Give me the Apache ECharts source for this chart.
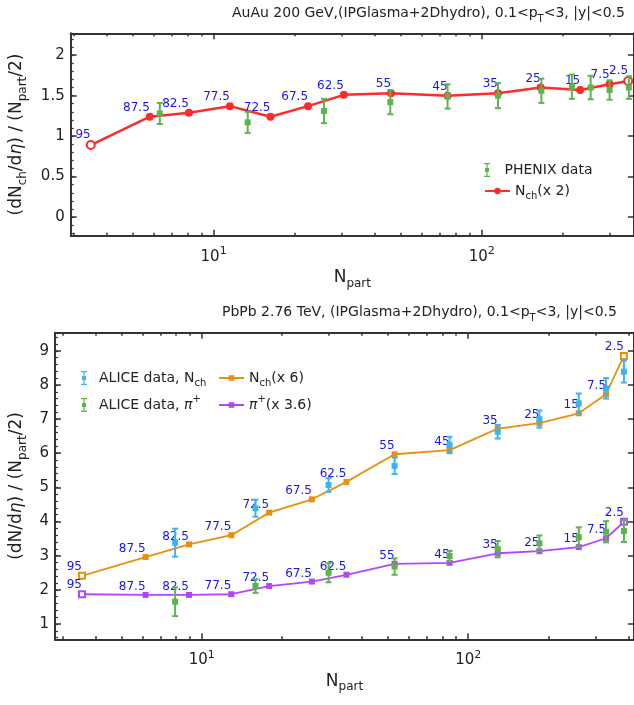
<!DOCTYPE html>
<html>
<head>
<meta charset="utf-8">
<script src="https://cdn.jsdelivr.net/npm/echarts@6/dist/echarts.min.js"></script>
<style>html,body{margin:0;padding:0;background:#fff}#chart{width:634px;height:705px}</style>
</head>
<body>
<div id="chart"></div>
<script>
// centrality (%) labels shown next to the model points
var centLabels = ['95', '87.5', '82.5', '77.5', '72.5', '67.5', '62.5', '55', '45', '35', '25', '15', '7.5', '2.5'];

// AuAu 200 GeV, model (x 2)
var auNpart = [3.48, 5.78, 8.09, 11.5, 16.3, 22.5, 30.6, 45.9, 74.6, 115, 166, 233, 300, 352];
var auNch = [0.89, 1.24, 1.29, 1.37, 1.24, 1.37, 1.51, 1.53, 1.50, 1.53, 1.60, 1.57, 1.64, 1.68];
// PHENIX data
var phenixNpart = [6.3, 13.4, 25.8, 45.6, 74.6, 115, 167, 217, 255, 300, 354];
var phenixVal = [1.28, 1.17, 1.31, 1.42, 1.49, 1.50, 1.56, 1.61, 1.60, 1.57, 1.60];
var phenixErr = [0.13, 0.13, 0.15, 0.15, 0.15, 0.155, 0.15, 0.15, 0.145, 0.12, 0.14];

// PbPb 2.76 TeV, model
var pbNpart = [3.55, 6.15, 8.95, 12.9, 17.9, 25.9, 34.9, 52.9, 85.1, 129, 185, 260, 329, 384];
var pbNch = [2.41, 2.96, 3.33, 3.60, 4.26, 4.65, 5.16, 5.97, 6.09, 6.72, 6.88, 7.17, 7.73, 8.85];
var pbPi = [1.87, 1.85, 1.85, 1.87, 2.11, 2.24, 2.44, 2.76, 2.79, 3.07, 3.13, 3.25, 3.51, 3.99];
// ALICE data
var aliceNpart = [7.94, 15.9, 29.9, 52.9, 85.1, 129, 185, 260, 329, 384];
var aliceNch = [3.38, 4.39, 5.07, 5.63, 6.24, 6.63, 7.00, 7.46, 7.90, 8.39];
var aliceNchErr = [0.41, 0.25, 0.20, 0.24, 0.24, 0.20, 0.25, 0.29, 0.30, 0.32];
var alicePi = [1.65, 2.11, 2.50, 2.68, 2.99, 3.19, 3.36, 3.54, 3.70, 3.72];
var alicePiErr = [0.42, 0.20, 0.28, 0.24, 0.15, 0.24, 0.23, 0.29, 0.31, 0.32];

// axis ticks
var xMajor = [10, 100];
var xMinor = [3, 4, 5, 6, 7, 8, 9, 20, 30, 40, 50, 60, 70, 80, 90, 200, 300, 400];
var auYMajor = [0, 0.5, 1, 1.5, 2];
var pbYMajor = [1, 2, 3, 4, 5, 6, 7, 8, 9];

var FONT = 'DejaVu Sans';
var AXC = '#333';
var CENTC = '#1616e6';
var RED = '#ff2a2a', GREEN = '#5cb44e', BLUE = '#3cb4f2', ORANGE = '#e8900e', PURPLE = '#b248f5';

function steps(a, b, d) {
    var out = [];
    for (var v = a; v <= b + 1e-9; v += d) out.push(Math.round(v * 100) / 100);
    return out;
}
var auYMinor = steps(-0.2, 2.2, 0.1);
var pbYMinor = steps(0.6, 9.4, 0.2);

function mkRich(size) {
    var s = Math.round(size * 0.7);
    var b = {fontFamily: FONT, fontWeight: 'normal', color: '#222'};
    return {
        n: Object.assign({fontSize: size, lineHeight: size + 7}, b),
        it: Object.assign({fontSize: size, lineHeight: size + 7, fontStyle: 'italic'}, b),
        sub: Object.assign({fontSize: s, lineHeight: s, verticalAlign: 'bottom'}, b),
        sup: Object.assign({fontSize: s, lineHeight: s, verticalAlign: 'top'}, b)
    };
}

var npartName = '{n|N}{sub|part}';

function xAxes(gi, min, max) {
    function ax(pos, major, withLine) {
        var a = {
            type: 'log', logBase: 10, gridIndex: gi, min: min, max: max, position: pos,
            splitLine: {show: false},
            axisLine: {show: withLine, onZero: false, lineStyle: {color: AXC, width: 2}},
            axisTick: {inside: true, length: major ? 6 : 3, customValues: major ? xMajor : xMinor,
                lineStyle: {color: AXC, width: 1.5}},
            axisLabel: {show: false}
        };
        if (withLine && pos === 'bottom') {
            a.axisLabel = {
                show: true, customValues: xMajor, margin: 10,
                formatter: function (v) {
                    return '{n|10}{sup|' + Math.round(Math.log(v) / Math.LN10) + '}';
                },
                rich: mkRich(15)
            };
            a.name = npartName;
            a.nameLocation = 'middle';
            a.nameGap = 30;
            a.nameTextStyle = {rich: mkRich(17)};
        }
        return a;
    }
    return [ax('bottom', true, true), ax('bottom', false, false), ax('top', true, true), ax('top', false, false)];
}

function yAxes(gi, min, max, major, minor, name, nameGap) {
    var base = {type: 'value', gridIndex: gi, min: min, max: max, splitLine: {show: false}};
    return [
        Object.assign({}, base, {
            position: 'left',
            axisLine: {show: true, onZero: false, lineStyle: {color: AXC, width: 2}},
            axisTick: {inside: true, length: 6, customValues: major, lineStyle: {color: AXC, width: 1.5}},
            axisLabel: {customValues: major, margin: 6, fontSize: 15, fontFamily: FONT, color: '#222'},
            name: name, nameLocation: 'middle', nameGap: nameGap,
            nameTextStyle: {rich: mkRich(17)}
        }),
        Object.assign({}, base, {
            position: 'left',
            axisLine: {show: false, onZero: false},
            axisTick: {inside: true, length: 3, customValues: minor, lineStyle: {color: AXC, width: 1.2}},
            axisLabel: {show: false}
        }),
        Object.assign({}, base, {
            position: 'right',
            axisLine: {show: true, onZero: false, lineStyle: {color: AXC, width: 2}},
            axisTick: {inside: true, length: 6, customValues: major, lineStyle: {color: AXC, width: 1.5}},
            axisLabel: {show: false}
        })
    ];
}

function modelData(xs, ys, hollow) {
    return xs.map(function (x, i) {
        var d = {value: [x, ys[i]]};
        if (i === 0 || i === xs.length - 1) d.symbol = hollow;
        return d;
    });
}

function errData(xs, ys, es) {
    return xs.map(function (x, i) { return [x, ys[i], es[i]]; });
}

function errorSeries(name, xi, yi, data, color, half) {
    return {
        name: name, type: 'custom', xAxisIndex: xi, yAxisIndex: yi, z: 5,
        itemStyle: {color: color},
        dimensions: ['x', 'y', 'err'],
        encode: {x: 0, y: 1},
        data: data,
        renderItem: function (params, api) {
            var x = api.value(0), y = api.value(1), e = api.value(2);
            var p = api.coord([x, y]);
            var hi = api.coord([x, y + e]);
            var lo = api.coord([x, y - e]);
            var st = {stroke: color, lineWidth: 2};
            return {
                type: 'group',
                children: [
                    {type: 'line', shape: {x1: p[0], y1: hi[1], x2: p[0], y2: lo[1]}, style: st},
                    {type: 'line', shape: {x1: p[0] - 3, y1: hi[1], x2: p[0] + 3, y2: hi[1]}, style: st},
                    {type: 'line', shape: {x1: p[0] - 3, y1: lo[1], x2: p[0] + 3, y2: lo[1]}, style: st},
                    {type: 'rect', shape: {x: p[0] - half, y: p[1] - half, width: 2 * half, height: 2 * half},
                        style: {fill: color}}
                ]
            };
        }
    };
}

function centLabel() {
    return {
        show: true, position: 'top', align: 'right', distance: -1,
        fontSize: 12, fontFamily: FONT, color: CENTC,
        formatter: function (p) { return centLabels[p.dataIndex]; }
    };
}

var errIcon = 'path://M0,0 L6,0 L6,1.2 L3.6,1.2 L3.6,5 L5,5 L5,9 L3.6,9 L3.6,12.8 L6,12.8 L6,14 L0,14 L0,12.8 L2.4,12.8 L2.4,9 L1,9 L1,5 L2.4,5 L2.4,1.2 L0,1.2 Z';

var legendNames = {
    'PHENIX data': '{n|PHENIX data}',
    'Nch2': '{n|N}{sub|ch}{n|(x 2)}',
    'aliceNch': '{n|ALICE data, N}{sub|ch}',
    'alicePi': '{n|ALICE data, }{it|π}{sup|+}',
    'Nch6': '{n|N}{sub|ch}{n|(x 6)}',
    'Pi36': '{it|π}{sup|+}{n|(x 3.6)}'
};

function legendBox(left, top, w, h, gap, data) {
    return {
        left: left, top: top, orient: 'vertical', itemWidth: w, itemHeight: h, itemGap: gap,
        formatter: function (n) { return legendNames[n]; },
        textStyle: {rich: mkRich(14)},
        data: data
    };
}

var myChart = echarts.init(document.getElementById('chart'));

var option = {
    animation: false,
    backgroundColor: '#fff',
    title: [
        {
            text: '{n|AuAu 200 GeV,(IPGlasma+2Dhydro), 0.1<p}{sub|T}{n|<3, |y|<0.5}',
            left: 232, top: 3, padding: 0,
            textStyle: {fontWeight: 'normal', rich: mkRich(14)}
        },
        {
            text: '{n|PbPb 2.76 TeV, (IPGlasma+2Dhydro), 0.1<p}{sub|T}{n|<3, |y|<0.5}',
            left: 222, top: 302, padding: 0,
            textStyle: {fontWeight: 'normal', rich: mkRich(14)}
        }
    ],
    grid: [
        {left: 70.7, top: 33.3, right: -1, height: 202.4},
        {left: 51, top: 332.7, right: -1, height: 306.6}
    ],
    xAxis: xAxes(0, 2.93, 370).concat(xAxes(1, 2.81, 419)),
    yAxis: yAxes(0, -0.23, 2.27, auYMajor, auYMinor,
        '{n|(dN}{sub|ch}{n|/d}{it|η}{n|) / (N}{sub|part}{n|/2)}', 42)
        .concat(yAxes(1, 0.55, 9.53, pbYMajor, pbYMinor,
            '{n|(dN/d}{it|η}{n|) / (N}{sub|part}{n|/2)}', 24)),
    legend: [
        legendBox(479, 158, 25, 14, 1, [{name: 'PHENIX data', icon: errIcon}]),
        legendBox(479, 179, 25, 8, 1, [{name: 'Nch2'}]),
        legendBox(76, 366, 20, 14, 6, [{name: 'aliceNch', icon: errIcon}, {name: 'alicePi', icon: errIcon}]),
        legendBox(213, 366, 25, 7, 6, [{name: 'Nch6'}, {name: 'Pi36'}])
    ],
    series: [
        {
            name: 'Nch2', type: 'line', xAxisIndex: 0, yAxisIndex: 0,
            data: modelData(auNpart, auNch, 'emptyCircle'),
            symbol: 'circle', symbolSize: 8,
            lineStyle: {color: RED, width: 2.5},
            itemStyle: {color: RED, borderWidth: 1.5},
            label: centLabel(), z: 3
        },
        errorSeries('PHENIX data', 0, 0, errData(phenixNpart, phenixVal, phenixErr), GREEN, 3),
        {
            name: 'Nch6', type: 'line', xAxisIndex: 4, yAxisIndex: 3,
            data: modelData(pbNpart, pbNch, 'emptyRect'),
            symbol: 'rect', symbolSize: 6,
            lineStyle: {color: ORANGE, width: 1.8},
            itemStyle: {color: ORANGE, borderWidth: 1.2},
            label: centLabel(), z: 3
        },
        {
            name: 'Pi36', type: 'line', xAxisIndex: 4, yAxisIndex: 3,
            data: modelData(pbNpart, pbPi, 'emptyRect'),
            symbol: 'rect', symbolSize: 6,
            lineStyle: {color: PURPLE, width: 1.8},
            itemStyle: {color: PURPLE, borderWidth: 1.2},
            label: centLabel(), z: 3
        },
        errorSeries('aliceNch', 4, 3, errData(aliceNpart, aliceNch, aliceNchErr), BLUE, 3),
        errorSeries('alicePi', 4, 3, errData(aliceNpart, alicePi, alicePiErr), GREEN, 3)
    ]
};

myChart.setOption(option);
</script>
</body>
</html>
